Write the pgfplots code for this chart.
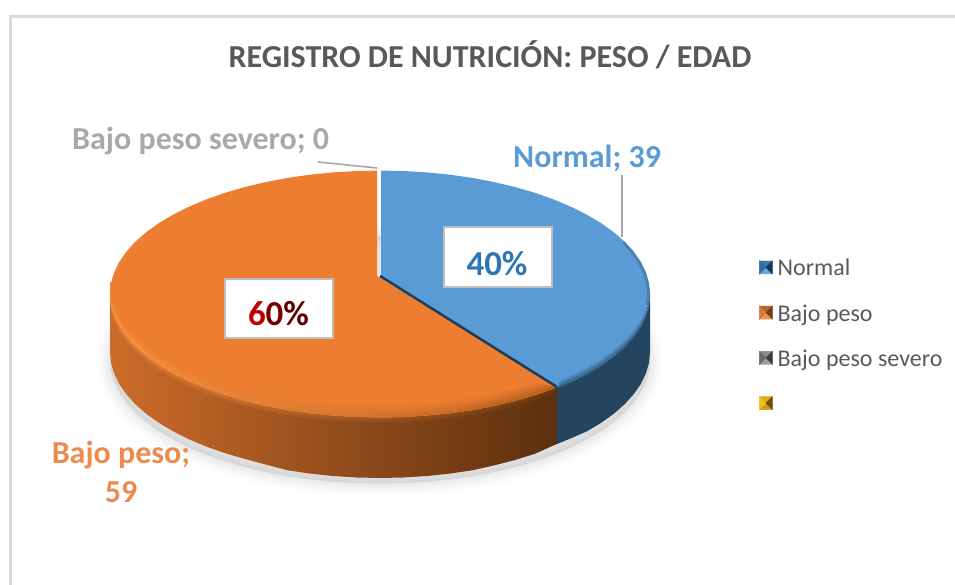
\documentclass[border=0pt]{standalone}
\usepackage{fontspec}
\setmainfont{Carlito}
\usepackage{xcolor}
\usepackage{pgfplots}
\usepackage{pgfplotstable}
\pgfplotsset{compat=1.18}

% outline of the pie's top face, in picture pixels, every 5 degrees
\pgfplotstableread{
x y
650.0 294.0
649.0 304.8
645.9 315.4
640.8 326.0
633.7 336.2
624.7 346.2
613.8 355.8
601.2 364.8
586.8 373.4
570.9 381.3
553.6 388.6
534.9 395.2
515.0 401.0
494.1 405.9
472.3 410.1
449.9 413.3
426.9 415.6
403.5 417.0
380.0 417.5
356.5 417.0
333.1 415.6
310.1 413.3
287.7 410.1
265.9 405.9
245.0 401.0
225.1 395.2
206.4 388.6
189.1 381.3
173.2 373.4
158.8 364.8
146.2 355.8
135.3 346.2
126.3 336.2
119.2 326.0
114.1 315.4
111.0 304.8
110.0 294.0
111.0 283.2
114.1 272.6
119.2 262.0
126.3 251.8
135.3 241.8
146.2 232.2
158.8 223.2
173.2 214.6
189.1 206.7
206.4 199.4
225.1 192.8
245.0 187.0
265.9 182.1
287.7 177.9
310.1 174.7
333.1 172.4
356.5 171.0
380.0 170.5
403.5 171.0
426.9 172.4
449.9 174.7
472.3 177.9
494.1 182.1
515.0 187.0
534.9 192.8
553.6 199.4
570.9 206.7
586.8 214.6
601.2 223.2
613.8 232.2
624.7 241.8
633.7 251.8
640.8 262.0
645.9 272.6
649.0 283.2
}\outline

% front rim of each slice, closed by a chord, for the soft bevel
\pgfplotstableread{
x y
110.0 294.0
111.0 304.8
114.1 315.4
119.2 326.0
126.3 336.2
135.3 346.2
146.2 355.8
158.8 364.8
173.2 373.4
189.1 381.3
206.4 388.6
225.1 395.2
245.0 401.0
265.9 405.9
287.7 410.1
310.1 413.3
333.1 415.6
356.5 417.0
380.0 417.5
403.5 417.0
426.9 415.6
449.9 413.3
472.3 410.1
494.1 405.9
515.0 401.0
534.9 395.2
553.6 388.6
557.1 387.2
}\orangerim
\pgfplotstableread{
x y
650.0 294.0
649.0 304.8
645.9 315.4
640.8 326.0
633.7 336.2
624.7 346.2
613.8 355.8
601.2 364.8
586.8 373.4
570.9 381.3
557.1 387.2
}\bluerim

\definecolor{pieblue}{HTML}{5B9BD5}
\definecolor{pieorange}{HTML}{EC7D31}
\definecolor{bluedark}{HTML}{234560}
\definecolor{bluedarker}{HTML}{1F3D55}
\definecolor{rimlight}{HTML}{F8913F}
\definecolor{rimmid}{HTML}{F5893A}
\definecolor{rimdark}{HTML}{B8611F}
\definecolor{sideA}{HTML}{CC6C2A}
\definecolor{sideB}{HTML}{AC5A21}
\definecolor{sideC}{HTML}{5C2F0E}
\definecolor{titlegray}{HTML}{595959}
\definecolor{labgray}{HTML}{A9A9A9}
\definecolor{laborange}{HTML}{EB8C4E}
\definecolor{leader}{HTML}{A6A6A6}
\definecolor{boxline}{HTML}{BDBDBD}
\definecolor{pctblue}{HTML}{2E75B6}
\definecolor{icA}{HTML}{3E76AD}\definecolor{icB}{HTML}{6AA5DC}\definecolor{icC}{HTML}{2F6AA3}\definecolor{icD}{HTML}{15395A}
\definecolor{ioA}{HTML}{C0652A}\definecolor{ioB}{HTML}{E8934F}\definecolor{ioC}{HTML}{D47A38}\definecolor{ioD}{HTML}{7A3A12}
\definecolor{igA}{HTML}{8A8A8A}\definecolor{igB}{HTML}{A0A0A0}\definecolor{igC}{HTML}{6A6A6A}\definecolor{igD}{HTML}{3C3C3C}
\definecolor{iyA}{HTML}{E0AC10}\definecolor{iyB}{HTML}{C99A10}\definecolor{iyC}{HTML}{F0C020}\definecolor{iyD}{HTML}{6A5008}

\newcommand\legicon[4]{\addlegendimage{legend image code/.code={
  \fill[#1] (0pt,6.5pt)--(13pt,6.5pt)--(6.5pt,0pt)--cycle;
  \fill[#2] (0pt,-6.5pt)--(13pt,-6.5pt)--(6.5pt,0pt)--cycle;
  \fill[#3] (0pt,-6.5pt)--(0pt,6.5pt)--(6.5pt,0pt)--cycle;
  \fill[#4] (13pt,-6.5pt)--(13pt,6.5pt)--(6.5pt,0pt)--cycle;
}}}

% shadow layer: line width, opacity
\newcommand\shadowlayer[2]{
\addplot[forget plot, fill=black, draw=black, fill opacity=#2, draw opacity=#2, line width=#1pt, line join=round, yshift=-66pt] table {\outline} -- cycle;
}

\begin{document}
\begin{tikzpicture}
\useasboundingbox (0pt,0pt) rectangle (955pt,585pt);
\begin{axis}[
  width=955pt, height=585pt, scale only axis,
  xmin=0, xmax=955, ymin=0, ymax=585,
  y dir=reverse,
  hide axis,
  legend style={
    at={(0.7948,0.56)}, anchor=north west,
    draw=none, fill=none, inner sep=0pt,
    font=\fontsize{24}{26}\selectfont, text=titlegray,
    row sep=25.5pt,
    nodes={inner sep=0pt},
  },
  legend cell align=left,
  /tikz/every odd column/.append style={column sep=5pt},
]
% frame
\addplot[forget plot, draw=black!15, line width=3pt] coordinates {(10,585) (10,17) (955,17)};

% soft shadow under the pie
\shadowlayer{26}{.012}
\shadowlayer{20}{.016}
\shadowlayer{14}{.02}
\shadowlayer{8}{.02}
\shadowlayer{3}{.02}

% side of the pie
\addplot[forget plot, draw=none, fill=bluedark] coordinates {
(650.0,294.0) (649.0,304.8) (645.9,315.4) (640.8,326.0) (633.7,336.2) (624.7,346.2) (613.8,355.8) (601.2,364.8) (586.8,373.4) (570.9,381.3) (557.1,387.2)
(557.1,444.0) (570.9,438.3) (586.8,431.4) (601.2,422.8) (613.8,413.8) (624.7,404.2) (633.7,394.2) (640.8,384.0) (645.9,373.4) (649.0,362.8) (650.0,352.0)
} -- cycle;
\addplot[forget plot, draw=none, left color=sideA, middle color=sideB, right color=sideC] coordinates {
(557.1,387.2) (553.6,388.6) (534.9,395.2) (515.0,401.0) (494.1,405.9) (472.3,410.1) (449.9,413.3) (426.9,415.6) (403.5,417.0) (380.0,417.5) (356.5,417.0) (333.1,415.6) (310.1,413.3) (287.7,410.1) (265.9,405.9) (245.0,401.0) (225.1,395.2) (206.4,388.6) (189.1,381.3) (173.2,373.4) (158.8,364.8) (146.2,355.8) (135.3,346.2) (126.3,336.2) (119.2,326.0) (114.1,315.4) (111.0,304.8) (110.0,294.0)
(110.0,352.0) (111.0,362.8) (114.1,373.4) (119.2,384.0) (126.3,394.2) (135.3,404.2) (146.2,413.8) (158.8,422.8) (173.2,431.4) (189.1,439.3) (206.4,446.6) (225.1,453.2) (245.0,459.0) (265.9,464.6) (287.7,470.3) (310.1,473.6) (333.1,476.0) (356.5,477.5) (380.0,478.0) (403.5,477.5) (426.9,476.0) (449.9,473.6) (472.3,470.3) (494.1,465.4) (515.0,460.0) (534.9,453.8) (553.6,445.4) (557.1,444.0)
} -- cycle;

% blur of the rim onto the side
\addplot[forget plot, draw=none, left color=rimmid, right color=sideC!70!rimdark, fill opacity=.35, yshift=-5pt] table {\orangerim} -- cycle;
\addplot[forget plot, draw=none, left color=rimmid, right color=sideC!70!rimdark, fill opacity=.45, yshift=-2.5pt] table {\orangerim} -- cycle;
\addplot[forget plot, draw=none, fill=pieblue!30!bluedark, fill opacity=.5, yshift=-2pt] table {\bluerim} -- cycle;

% top face
\addplot[forget plot, draw=none, fill=pieorange] coordinates {
(377,276) (377,170.6) (356.5,171.0) (333.1,172.4) (310.1,174.7) (287.7,177.9) (265.9,182.1) (245.0,187.0) (225.1,192.8) (206.4,199.4) (189.1,206.7) (173.2,214.6) (158.8,223.2) (146.2,232.2) (135.3,241.8) (126.3,251.8) (119.2,262.0) (114.1,272.6) (111.0,283.2) (110.0,294.0) (111.0,304.8) (114.1,315.4) (119.2,326.0) (126.3,336.2) (135.3,346.2) (146.2,355.8) (158.8,364.8) (173.2,373.4) (189.1,381.3) (206.4,388.6) (225.1,395.2) (245.0,401.0) (265.9,405.9) (287.7,410.1) (310.1,413.3) (333.1,415.6) (356.5,417.0) (380.0,417.5) (403.5,417.0) (426.9,415.6) (449.9,413.3) (472.3,410.1) (494.1,405.9) (515.0,401.0) (534.9,395.2) (553.6,388.6) (557.1,387.2)
} -- cycle;

% bevel on the orange slice: light at the left, dark toward the seam
\addplot[forget plot, draw=none, left color=rimlight, middle color=rimlight, right color=rimdark] table {\orangerim} -- cycle;
\addplot[forget plot, draw=none, fill=pieorange, fill opacity=.3, yshift=3pt] table {\orangerim} -- cycle;
\addplot[forget plot, draw=none, fill=pieorange, fill opacity=.45, yshift=6pt] table {\orangerim} -- cycle;
\addplot[forget plot, draw=none, fill=pieorange, fill opacity=.6, yshift=9pt] table {\orangerim} -- cycle;
\addplot[forget plot, draw=none, fill=pieorange, yshift=12pt] table {\orangerim} -- cycle;

\addplot[forget plot, draw=none, fill=pieblue] coordinates {
(381,276) (381,170.6) (403.5,171.0) (426.9,172.4) (449.9,174.7) (472.3,177.9) (494.1,182.1) (515.0,187.0) (534.9,192.8) (553.6,199.4) (570.9,206.7) (586.8,214.6) (601.2,223.2) (613.8,232.2) (624.7,241.8) (633.7,251.8) (640.8,262.0) (645.9,272.6) (649.0,283.2) (650.0,294.0) (649.0,304.8) (645.9,315.4) (640.8,326.0) (633.7,336.2) (624.7,346.2) (613.8,355.8) (601.2,364.8) (586.8,373.4) (570.9,381.3) (557.1,387.2)
} -- cycle;

% bevel on the blue slice
\addplot[forget plot, draw=none, fill=pieblue!45!bluedark] table {\bluerim} -- cycle;
\addplot[forget plot, draw=none, fill=pieblue!65!bluedark, yshift=2pt] table {\bluerim} -- cycle;
\addplot[forget plot, draw=none, fill=pieblue!85!bluedark, yshift=4pt] table {\bluerim} -- cycle;
\addplot[forget plot, draw=none, fill=pieblue, yshift=6pt] table {\bluerim} -- cycle;
\addplot[forget plot, draw=bluedark, line width=3pt, draw opacity=.3, xshift=-1.5pt] coordinates {
(624.7,241.8) (633.7,251.8) (640.8,262.0) (645.9,272.6) (649.0,283.2) (650.0,294.0) (649.0,304.8)
};

% edge between the slices
\addplot[forget plot, draw=bluedarker, line width=2.5pt] coordinates {(380,276) (557,387)};

% leader lines
\addplot[forget plot, draw=leader, line width=1.6pt] coordinates {(318,162) (377,168)};
\addplot[forget plot, draw=leader, line width=1.6pt] coordinates {(622,175) (622,237)};

% legend
\legicon{icA}{icB}{icC}{icD}
\addlegendentry{\strut Normal}
\legicon{ioA}{ioB}{ioC}{ioD}
\addlegendentry{\strut Bajo peso}
\legicon{igA}{igB}{igC}{igD}
\addlegendentry{\strut Bajo peso severo}
\legicon{iyA}{iyB}{iyC}{iyD}
\addlegendentry{\strut}

% title and labels
\node[text=titlegray, anchor=base, font=\bfseries\fontsize{32}{34}\selectfont] at (axis cs:490,68) {REGISTRO DE NUTRICIÓN: PESO / EDAD};
\node[text=labgray, anchor=base west, inner sep=0pt, font=\bfseries\fontsize{32}{34}\selectfont] at (axis cs:72,150) {Bajo peso severo; 0};
\node[text=pieblue, anchor=base west, inner sep=0pt, font=\bfseries\fontsize{32}{34}\selectfont] at (axis cs:513,168) {Normal; 39};
\node[text=laborange, anchor=base, inner sep=0pt, font=\bfseries\fontsize{32}{34}\selectfont] at (axis cs:121,463) {Bajo peso;};
\node[text=laborange, anchor=base, inner sep=0pt, font=\bfseries\fontsize{32}{34}\selectfont] at (axis cs:121,502) {59};

% value boxes
\node[fill=white, draw=boxline, line width=2pt, minimum width=108pt, minimum height=59pt, inner sep=0pt] at (axis cs:278.5,308) {};
\node[anchor=base, inner sep=0pt, font=\bfseries\fontsize{35}{37}\selectfont] at (axis cs:278.5,325) {\textcolor[HTML]{C00000}{6}\textcolor[HTML]{7A0000}{0}\textcolor[HTML]{5E0000}{\%}};
\node[fill=white, draw=boxline, line width=2pt, minimum width=108pt, minimum height=59pt, inner sep=0pt] at (axis cs:497.5,257) {};
\node[anchor=base, inner sep=0pt, font=\bfseries\fontsize{35}{37}\selectfont, text=pctblue] at (axis cs:497,275) {40\%};
\end{axis}
\end{tikzpicture}
\end{document}
